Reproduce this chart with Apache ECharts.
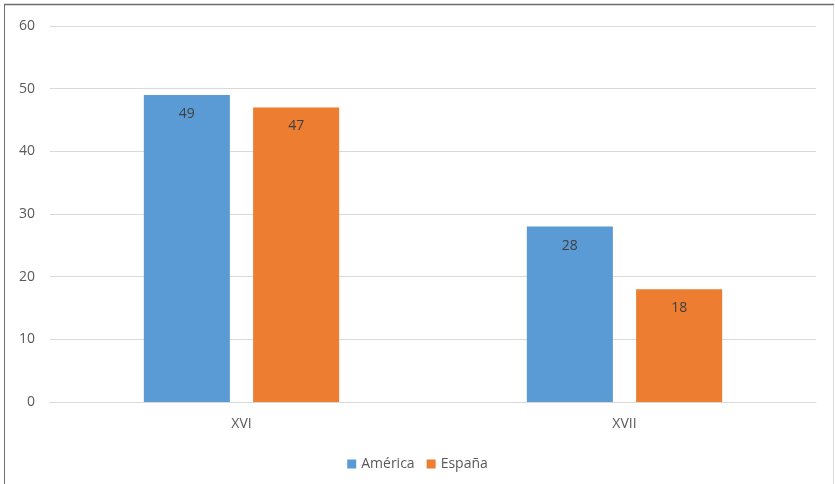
<!DOCTYPE html>
<html><head><meta charset="utf-8">
<script src="https://cdn.jsdelivr.net/npm/echarts@6/dist/echarts.min.js"></script>
<style>html,body{margin:0;padding:0;background:#fff}#c{width:835px;height:484px}</style>
</head><body><div id="c"></div>
<script>
const categories = ['XVI', 'XVII'];
const seriesNames = ['América', 'España'];
const america = [49, 28];
const espana = [47, 18];
const yTicks = [0, 10, 20, 30, 40, 50, 60];
const colors = ['#5b9bd5', '#ed7d31'];

const chart = echarts.init(document.getElementById('c'), null, {renderer: 'canvas'});
const font = '"Open Sans", "Noto Sans", sans-serif';
const label = {show: true, position: 'insideTop', distance: 12, color: '#404040', fontSize: 14, fontFamily: font};
chart.setOption({
  animation: false,
  textStyle: {fontFamily: font},
  graphic: [
    {type: 'line', shape: {x1: 4.5, y1: 4.5, x2: 4.5, y2: 484}, style: {stroke: '#6e6e6e', lineWidth: 1}},
    {type: 'line', shape: {x1: 4, y1: 4.5, x2: 834, y2: 4.5}, style: {stroke: '#6e6e6e', lineWidth: 1.5}},
    {type: 'line', shape: {x1: 833.5, y1: 5, x2: 833.5, y2: 484}, style: {stroke: '#d9d9d9', lineWidth: 1}}
  ],
  grid: {left: 50, right: 19, top: 26, bottom: 82, containLabel: false},
  legend: {
    data: seriesNames, bottom: 8, left: 'center', itemWidth: 9, itemHeight: 9, itemGap: 12,
    icon: 'rect', textStyle: {color: '#595959', fontSize: 14, fontFamily: font}
  },
  xAxis: {
    type: 'category', data: categories,
    axisLine: {lineStyle: {color: '#d9d9d9'}}, axisTick: {show: false},
    axisLabel: {color: '#595959', fontSize: 14, margin: 15, fontFamily: font}
  },
  yAxis: {
    type: 'value', min: yTicks[0], max: yTicks[yTicks.length - 1], interval: 10,
    axisLine: {show: false}, axisTick: {show: false},
    axisLabel: {color: '#595959', fontSize: 14, margin: 15, fontFamily: font},
    splitLine: {lineStyle: {color: '#d9d9d9', width: 1}}
  },
  series: [
    {name: seriesNames[0], type: 'bar', data: america, itemStyle: {color: colors[0]}, label: label, barGap: '27%', barCategoryGap: '49%'},
    {name: seriesNames[1], type: 'bar', data: espana, itemStyle: {color: colors[1]}, label: label}
  ]
});
</script></body></html>
